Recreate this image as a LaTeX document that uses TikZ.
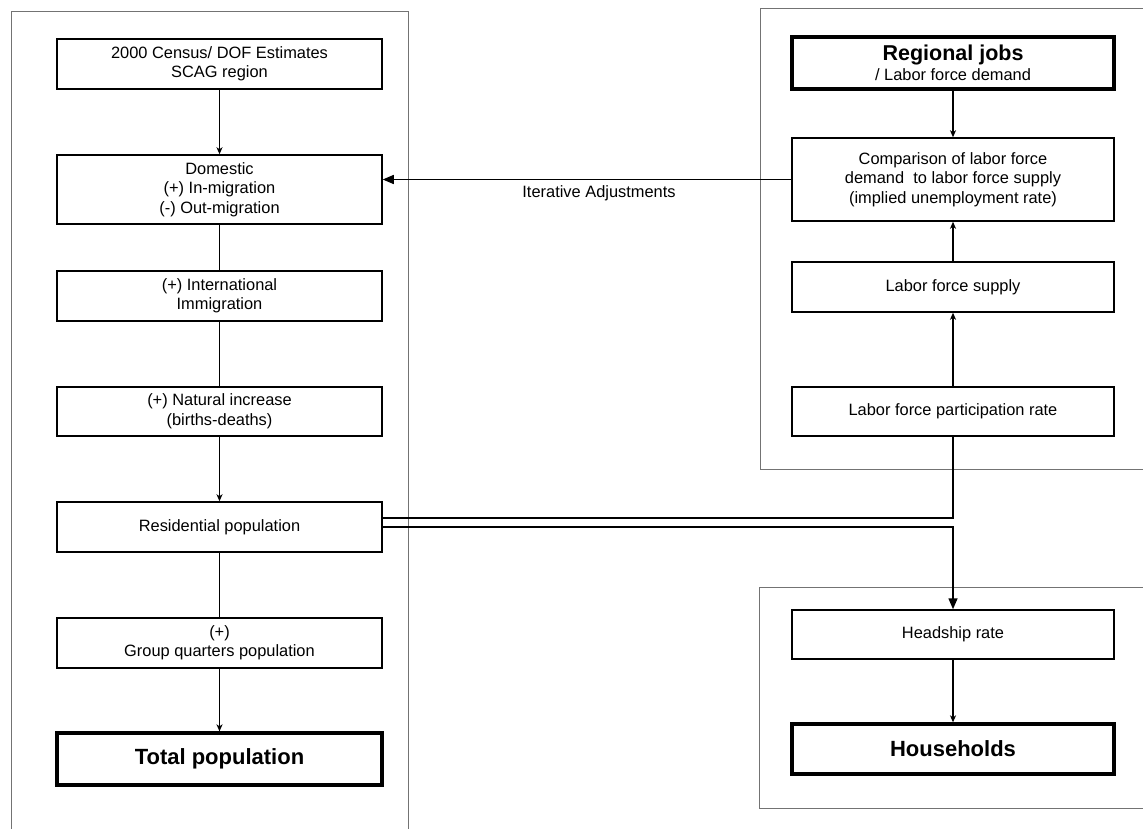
\documentclass[tikz,border=0pt]{standalone}
\usepackage{fontspec}
\setmainfont{Liberation Sans}
\usetikzlibrary{arrows.meta}
\newcommand\regfont{\fontsize{16.4}{19.5}\selectfont}
\newcommand\bigfont{\fontsize{22}{26}\selectfont\bfseries}
\begin{document}
\begin{tikzpicture}[x=1pt,y=-1pt,
  container/.style={draw=black!55, line width=0.6pt},
  box/.style={draw, line width=1.5pt, align=center, font=\regfont, inner sep=0pt},
  leftbox/.style={box, minimum width=325pt},
  rightbox/.style={box, minimum width=322pt},
  boldbox/.style={line width=3.3pt},
  link/.style={draw, line width=1.5pt},
  smallarrow/.style={link, -{Stealth[length=7pt,width=6pt,inset=2pt]}},
  bigarrow/.style={link, -{Triangle[length=11pt,width=9pt]}}
]
\useasboundingbox (0,0) rectangle (1143,829);
\fill[white] (0,0) rectangle (1143,829);
% containers
\draw[container] (11,840) -- (11,11) -- (408,11) -- (408,840);
\draw[container] (1150,8) -- (760,8) -- (760,469) -- (1150,469);
\draw[container] (1150,587) -- (759,587) -- (759,808) -- (1150,808);
% left column
\node[leftbox, minimum height=50pt] (census) at (219.5,64) {2000 Census/ DOF Estimates\\SCAG region};
\node[leftbox, minimum height=69pt] (domestic) at (219.5,189.5) {Domestic\\(+) In-migration\\(-) Out-migration};
\node[leftbox, minimum height=50pt] (intl) at (219.5,296) {(+) International\\Immigration};
\node[leftbox, minimum height=49pt] (natural) at (219.5,411.5) {(+) Natural increase\\(births-deaths)};
\node[leftbox, minimum height=50pt] (resid) at (219.5,527) {Residential population};
\node[leftbox, minimum height=50pt] (group) at (219.5,643) {(+)\\Group quarters population};
\node[leftbox, boldbox, minimum height=52pt, font=\bigfont] (total) at (219.5,759) {Total population};
% right column
\node[rightbox, boldbox, minimum height=52pt] (jobs) at (953,63) {{\fontsize{21.5}{22}\selectfont\bfseries Regional jobs}\\[1pt]/ Labor force demand};
\node[rightbox, minimum height=83pt] (compare) at (953,179.5) {Comparison of labor force\\demand\ \ to labor force supply\\(implied unemployment rate)};
\node[rightbox, minimum height=50pt] (supply) at (953,287) {Labor force supply};
\node[rightbox, minimum height=49pt] (partic) at (953,411.5) {Labor force participation rate};
\node[rightbox, minimum height=49pt] (headship) at (953,634.5) {Headship rate};
\node[rightbox, boldbox, minimum height=50pt, font=\bigfont] (households) at (953,749) {Households};
% connectors left
\draw[smallarrow] (census) -- (domestic);
\draw[link] (domestic) -- (intl);
\draw[link] (intl) -- (natural);
\draw[smallarrow] (natural) -- (resid);
\draw[link] (resid) -- (group);
\draw[smallarrow] (group) -- (total);
% connectors right
\draw[smallarrow] (jobs) -- (compare);
\draw[smallarrow] (supply) -- (compare);
\draw[smallarrow] (partic) -- (supply);
\draw[smallarrow] (headship) -- (households);
% iterative adjustments
\draw[bigarrow] (compare.west) -- (compare.west -| domestic.east);
\node[font=\regfont, anchor=center] (iterlbl) at (599,193) {Iterative Adjustments};
% double line
\draw[link] ([yshift=9pt]resid.east) -| (partic.south);
\draw[bigarrow] (resid.east) -| (headship.north);
\end{tikzpicture}
\end{document}
